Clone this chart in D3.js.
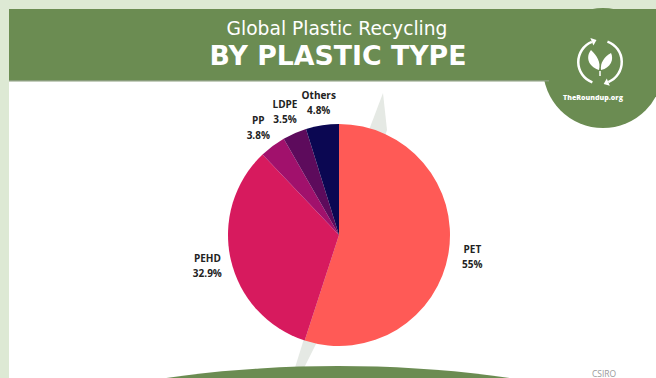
<!DOCTYPE html>
<html>
<head>
<meta charset="utf-8">
<script src="https://cdn.jsdelivr.net/npm/d3@7"></script>
<style>
  html, body { margin: 0; padding: 0; background: #dde9d4; }
  svg { display: block; }
</style>
</head>
<body>
<svg id="chart" width="656" height="378"></svg>
<script>
// Share of globally recycled plastic, by resin type
const categories = ["PET", "PEHD", "PP", "LDPE", "Others"];
const shares = [55, 32.9, 3.8, 3.5, 4.8];
const valueLabels = ["55%", "32.9%", "3.8%", "3.5%", "4.8%"];
const sliceColors = ["#ff5a56", "#d71a5e", "#a1116c", "#5d0b5c", "#0b0752"];

const W = 656, H = 378;
const green = "#6b8c52";
const svg = d3.select("#chart");

// page frame
svg.append("rect").attr("width", W).attr("height", H).attr("fill", "#dde9d4");
svg.append("rect").attr("x", 9).attr("y", 81).attr("width", W - 9).attr("height", H - 81).attr("fill", "#ffffff");

// logo badge (circle that hangs below the header band)
svg.append("circle").attr("cx", 603).attr("cy", 68).attr("r", 60).attr("fill", green);

// header band
svg.append("rect").attr("x", 9).attr("y", 9).attr("width", W - 9).attr("height", 72).attr("fill", green);
svg.append("rect").attr("x", 9).attr("y", 80).attr("width", 540).attr("height", 1.5).attr("fill", "#8a9d7c");

function fitText(sel, width) {
  const len = sel.node().getComputedTextLength();
  const fs = parseFloat(sel.attr("font-size"));
  sel.attr("font-size", fs * width / len);
}

const t1 = svg.append("text").attr("x", 337).attr("y", 34.5).attr("text-anchor", "middle")
  .attr("font-family", "'DejaVu Sans', sans-serif").attr("font-weight", 400)
  .attr("font-size", 15).attr("fill", "#ffffff").text("Global Plastic Recycling");
fitText(t1, 221);
const t2 = svg.append("text").attr("x", 338).attr("y", 65).attr("text-anchor", "middle")
  .attr("font-family", "'DejaVu Sans', sans-serif").attr("font-weight", 700)
  .attr("font-size", 24).attr("fill", "#ffffff").text("BY PLASTIC TYPE");
fitText(t2, 257);

// logo: recycling ring with leaves
const logo = svg.append("g").attr("transform", "translate(600,62)");
const ringArc = d3.arc().innerRadius(20.5).outerRadius(23);
[[0.35, 2.75], [3.5, 5.9]].forEach(([a0, a1]) => {
  logo.append("path").attr("d", ringArc({startAngle: a0, endAngle: a1})).attr("fill", "#ffffff");
  const ax = 21.75 * Math.sin(a1), ay = -21.75 * Math.cos(a1);
  const tx = Math.cos(a1), ty = Math.sin(a1);
  const nx = Math.sin(a1), ny = -Math.cos(a1);
  logo.append("path")
    .attr("d", `M${ax + nx * 4},${ay + ny * 4} L${ax - nx * 4},${ay - ny * 4} L${ax + tx * 5},${ay + ty * 5} Z`)
    .attr("fill", "#ffffff");
});
logo.append("path").attr("d", "M-1,8 C-13,4 -14,-6 -9,-12 C-3,-6 1,0 -1,8 Z").attr("fill", "#ffffff");
logo.append("path").attr("d", "M1,8 C11,6 14,-3 11,-9 C4,-5 0,1 1,8 Z").attr("fill", "#ffffff");
logo.append("path").attr("d", "M0,9 L0,14").attr("stroke", "#ffffff").attr("stroke-width", 1.5);
const t3 = svg.append("text").attr("x", 593).attr("y", 100).attr("text-anchor", "middle")
  .attr("font-family", "'Open Sans', sans-serif").attr("font-weight", 800)
  .attr("font-size", 9).attr("fill", "#ffffff").text("TheRoundup.org");
fitText(t3, 60);

// pale slanted stripe behind the pie
svg.append("path")
  .attr("d", "M383,93 L387,130 L318,340 L301,374 L293,374 L369,130 Z")
  .attr("fill", "#e5e9e4");

// bottom green dome
svg.append("defs").append("clipPath").attr("id", "panelClip")
  .append("rect").attr("x", 150).attr("y", 300).attr("width", 380).attr("height", 100);
svg.append("ellipse").attr("cx", 338).attr("cy", 490).attr("rx", 400).attr("ry", 124).attr("fill", green)
  .attr("clip-path", "url(#panelClip)");

// pie
const cx = 339, cy = 235, R = 111, labelR = 135;
const data = categories.map((c, i) => ({name: c, value: shares[i], label: valueLabels[i], color: sliceColors[i]}));
const pie = d3.pie().value(d => d.value).sort(null);
const arcs = pie(data);
const arc = d3.arc().innerRadius(0).outerRadius(R);
const labelArc = d3.arc().innerRadius(labelR).outerRadius(labelR);

const g = svg.append("g").attr("transform", `translate(${cx},${cy})`);
g.selectAll("path.slice").data(arcs).join("path")
  .attr("class", "slice")
  .attr("d", arc)
  .attr("fill", d => d.data.color);

const labels = g.selectAll("text.lbl").data(arcs).join("text")
  .attr("class", "lbl")
  .attr("transform", d => `translate(${labelArc.centroid(d)})`)
  .attr("text-anchor", "middle")
  .attr("font-family", "'Open Sans', sans-serif")
  .attr("font-weight", 700)
  .attr("font-size", 10)
  .attr("fill", "#222222");
labels.append("tspan").attr("x", 0).attr("y", -3).text(d => d.data.name);
labels.append("tspan").attr("x", 0).attr("y", 12).text(d => d.data.label);

// source note
svg.append("text").attr("x", 604).attr("y", 377).attr("text-anchor", "middle")
  .attr("font-family", "'Open Sans', sans-serif").attr("font-size", 8.5)
  .attr("fill", "#9a9a9a").text("CSIRO");
</script>
</body>
</html>
